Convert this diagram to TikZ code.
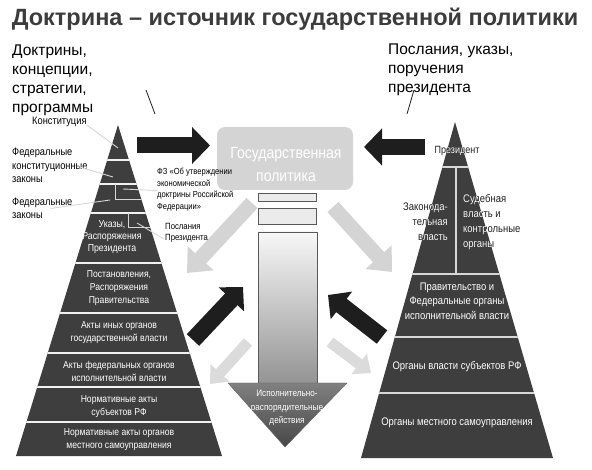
\documentclass[tikz,border=0pt]{standalone}
\usepackage{fontspec}
\setmainfont{Liberation Sans}
\newfontfamily\narrowfont[FakeStretch=0.86]{Liberation Sans}
\newcommand{\nsize}[2]{\narrowfont\fontsize{#1}{#2}\selectfont}
\usetikzlibrary{arrows.meta,positioning}
\definecolor{pyramid}{RGB}{62,62,62}
\definecolor{ink}{RGB}{30,30,30}
\definecolor{titlegray}{RGB}{60,60,60}
\definecolor{pale}{RGB}{212,212,212}
\definecolor{rule}{RGB}{215,215,215}

\begin{document}
\begin{tikzpicture}[
    x=1pt, y=-1pt,
    tier/.style={align=center,font=\nsize{10}{13},text=white,inner sep=0pt},
    side/.style={align=left,font=\nsize{10.8}{13.5},inner sep=0pt,anchor=west},
    big/.style={align=left,font=\fontsize{15.5}{19}\selectfont,inner sep=0pt,anchor=north west},
    bold arrow/.style={ink,line width=16pt,-{Triangle[width=36pt,length=18pt]}},
    pale arrow/.style={pale,line width=15pt,-{Triangle[width=34pt,length=20pt]}},
    small arrow/.style={pale!85!white,line width=11pt,-{Triangle[width=25pt,length=15pt]}},
    leader/.style={rule,line width=0.9pt},
    split/.style={rule,line width=1.4pt}
]
\useasboundingbox (0,0) rectangle (592,470);

% title and top texts
\node[font=\bfseries\fontsize{23.5}{27}\selectfont,text=titlegray] (title) at (295,19) {Доктрина – источник государственной политики};
\node[big] (doctrines) at (12,45) {Доктрины,\\концепции,\\стратегии,\\программы};
\node[big] (messages) at (388,44) {Послания, указы,\\поручения\\президента};
\coordinate (ltick1) at (146,90);  \coordinate (ltick2) at (155,114);
\coordinate (rtick1) at (414,90);  \coordinate (rtick2) at (407,114);
\draw[ink,line width=0.8pt] (ltick1) -- (ltick2);
\draw[ink,line width=0.8pt] (rtick1) -- (rtick2);

% left pyramid
\coordinate (ltop) at (118,125);
\coordinate (lleft) at (16,456);
\coordinate (lright) at (222,456);
\fill[pyramid] (ltop) -- (lright) -- (lleft) -- cycle;
\begin{scope}
  \clip (ltop) -- (lright) -- (lleft) -- cycle;
  \foreach \y in {160,184,213,263,313,353,387,422}
    \draw[split,white!90!gray] (0,\y) -- (240,\y);
  \draw[split,line width=1pt] (115,184) -- (115,200) -- (240,200);
  \draw[split,line width=1pt] (128,213) -- (128,228) -- (240,228);
\end{scope}

% right pyramid
\coordinate (rtop) at (455,122);
\coordinate (rleft) at (361,458);
\coordinate (rright) at (553,458);
\fill[pyramid] (rtop) -- (rright) -- (rleft) -- cycle;
\begin{scope}
  \clip (rtop) -- (rright) -- (rleft) -- cycle;
  \foreach \y in {167,274,337,393}
    \draw[split] (340,\y) -- (580,\y);
  \draw[split] (456,167) -- (456,274);
\end{scope}

% state policy block
\node[fill=pale,rounded corners=8pt,minimum width=136pt,minimum height=63pt,inner sep=0pt] (policy) at (285,158.5) {};
\node[align=center,text=white,font=\nsize{16.3}{23},inner sep=0pt] (policytext) at (286,164) {Государственная\\политика};
\node[draw=black!65,fill=black!8,minimum width=58pt,minimum height=8pt,inner sep=0pt] (bar1) at (287,197) {};
\node[draw=black!65,fill=black!8,minimum width=58pt,minimum height=16pt,inner sep=0pt] (bar2) at (287,216) {};
\shade[top color=black!3,bottom color=black!42,draw=black!65] (258,232) rectangle (317,383);
\shade[top color=black!50,bottom color=black!72,draw=black!60] (228,383) -- (347,383) -- (285,447) -- cycle;
\node[tier,font=\nsize{9.5}{13.5}] (actions) at (287,408) {Исполнительно-\\распорядительные\\действия};

% arrows
\coordinate (la1) at (137,145.5); \coordinate (la2) at (210,145.5);
\coordinate (ra1) at (425,147);   \coordinate (ra2) at (364,147);
\coordinate (lb1) at (193,340);   \coordinate (lb2) at (243,287);
\coordinate (rb1) at (382,337);   \coordinate (rb2) at (328,295);
\coordinate (lp1) at (252,203);   \coordinate (lp2) at (187,273);
\coordinate (rp1) at (333,207);   \coordinate (rp2) at (392,272);
\coordinate (ls1) at (248,342);   \coordinate (ls2) at (210,384);
\coordinate (rs1) at (330,342);   \coordinate (rs2) at (371,373);
\draw[bold arrow] (la1) -- (la2);
\draw[bold arrow] (ra1) -- (ra2);
\draw[bold arrow,line width=17pt,-{Triangle[width=34pt,length=17pt]}] (lb1) -- (lb2);
\draw[bold arrow,line width=17pt,-{Triangle[width=34pt,length=17pt]}] (rb1) -- (rb2);
\draw[pale arrow] (lp1) -- (lp2);
\draw[pale arrow] (rp1) -- (rp2);
\draw[small arrow] (ls1) -- (ls2);
\draw[small arrow] (rs1) -- (rs2);

% left pyramid labels
\node[side] (konst) at (32,122) {Конституция};
\node[side] (fkz) at (12,165.5) {Федеральные\\конституционные\\законы};
\node[side] (fz) at (12,208.5) {Федеральные\\законы};
\node[side,font=\nsize{8.8}{11.5}] (doctrinelaw) at (157,189.5) {ФЗ «Об утверждении\\экономической\\доктрины Российской\\Федерации»};
\node[side,font=\nsize{9}{11}] (address) at (165,233) {Послания\\Президента};
\draw[leader] ([yshift=-3pt]konst.east) -- (118,148);
\draw[leader] ([xshift=-10pt,yshift=-1pt]fkz.east) -- (113,177);
\draw[leader] ([xshift=-22pt,yshift=0pt]fz.east) -- (110,200);
\draw[leader] ([yshift=-1pt]doctrinelaw.west) -- (123,189);
\draw[leader] ([xshift=-1pt,yshift=-6pt]address.west) -- (137,223);
\node[tier,font=\nsize{10.2}{12}] (decrees) at (112,237) {Указы,\\Распоряжения\\Президента};
\node[tier] (govacts) at (119,288) {Постановления,\\Распоряжения\\Правительства};
\node[tier] (otheracts) at (119,332.5) {Акты иных органов\\государственной власти};
\node[tier] (fedacts) at (119,371.5) {Акты федеральных органов\\исполнительной власти};
\node[tier] (regacts) at (119,406.5) {Нормативные акты\\субъектов РФ};
\node[tier] (localacts) at (119,439.5) {Нормативные акты органов\\местного самоуправления};

% right pyramid labels
\node[tier,text=ink,font=\nsize{10.5}{12}] (president) at (457,151) {Президент};
\node[tier,text=ink,align=right,anchor=east,font=\nsize{11}{15}] (legis) at (448,222) {Законода-\\тельная\\власть};
\node[tier,text=ink,align=left,anchor=west,font=\nsize{11}{15}] (courts) at (463,222.5) {Судебная\\власть и\\контрольные\\органы};
\begin{scope}
  \clip (rtop) -- (rright) -- (rleft) -- cycle;
  \node[tier,font=\nsize{10.5}{12}] (president-w) at (457,151) {Президент};
  \node[tier,align=right,anchor=east,font=\nsize{11}{15}] (legis-w) at (448,222) {Законода-\\тельная\\власть};
  \node[tier,align=left,anchor=west,font=\nsize{11}{15}] (courts-w) at (463,222.5) {Судебная\\власть и\\контрольные\\органы};
\end{scope}
\node[tier,font=\nsize{11}{14.5}] (government) at (457,301) {Правительство и\\Федеральные органы\\исполнительной власти};
\node[tier,font=\nsize{11}{13}] (regions) at (457,367) {Органы власти субъектов РФ};
\node[tier,font=\nsize{11}{13}] (local) at (457,423) {Органы местного самоуправления};
\end{tikzpicture}
\end{document}
